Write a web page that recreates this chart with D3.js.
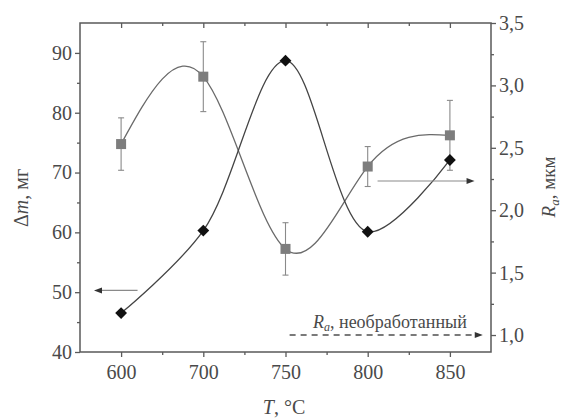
<!DOCTYPE html>
<html>
<head>
<meta charset="utf-8">
<script src="https://cdn.jsdelivr.net/npm/d3@7"></script>
<style>
  body { margin: 0; background: #fff; }
  svg { display: block; }
  svg text { font-family: "Liberation Serif", "Times New Roman", Times, serif; }
</style>
</head>
<body>
<svg width="563" height="419"></svg>
<script>
// temperatures (categorical, evenly spaced)
var temps = ['600', '700', '750', '800', '850']
// mass change, left axis
var dm = [46.5, 60.3, 88.7, 60.1, 72.1]
// roughness, right axis
var ra = [2.53, 3.07, 1.69, 2.35, 2.60]
var raErr = [0.21, 0.28, 0.21, 0.16, 0.28]
var raUntreated = 1.0
var dmTicks = [40, 50, 60, 70, 80, 90]
var raTicks = [1.0, 1.5, 2.0, 2.5, 3.0, 3.5]

;(function (d3) {
  var svg = d3.select('svg')
  var pl = 80, pr = 491, pt = 23, pb = 352

  var x = d3.scaleLinear().domain([-0.5, 4.5]).range([pl, pr])
  var yL = d3.scaleLinear().domain([40, 95]).range([pb, pt])
  var yR = d3.scaleLinear().domain([0.864, 3.5]).range([pb, pt])

  var axisColor = '#5a5a5a'
  var textColor = '#4a4a4a'
  var serif = '"Liberation Serif", "Times New Roman", Times, serif'

  function styleAxis (g) {
    g.attr('font-family', serif).attr('font-size', 20)
    g.select('.domain').remove()
    g.selectAll('line').attr('stroke', axisColor).attr('stroke-width', 1.3)
    g.selectAll('text').attr('fill', textColor).style('font-size', '20px')
  }

  // minor ticks
  var xMinor = [0.5, 1.5, 2.5, 3.5]
  var lMinor = [45, 55, 65, 75, 85]
  var rMinor = [1.25, 1.75, 2.25, 2.75, 3.25]

  svg.append('g').attr('transform', 'translate(0,' + pb + ')')
    .call(d3.axisBottom(x).tickValues(d3.range(temps.length)).tickFormat(function (i) { return temps[i] }).tickSize(5).tickPadding(8))
    .call(styleAxis)
  svg.append('g').attr('transform', 'translate(0,' + pb + ')')
    .call(d3.axisBottom(x).tickValues(xMinor).tickFormat('').tickSize(3))
    .call(styleAxis)
  svg.append('g').attr('transform', 'translate(0,' + pt + ')')
    .call(d3.axisBottom(x).tickValues(d3.range(temps.length)).tickFormat('').tickSize(5))
    .call(styleAxis)
  svg.append('g').attr('transform', 'translate(0,' + pt + ')')
    .call(d3.axisBottom(x).tickValues(xMinor).tickFormat('').tickSize(3))
    .call(styleAxis)

  svg.append('g').attr('transform', 'translate(' + pl + ',0)')
    .call(d3.axisLeft(yL).tickValues(dmTicks).tickSize(5).tickPadding(3))
    .call(styleAxis)
  svg.append('g').attr('transform', 'translate(' + pl + ',0)')
    .call(d3.axisLeft(yL).tickValues(lMinor).tickFormat('').tickSize(3))
    .call(styleAxis)

  svg.append('g').attr('transform', 'translate(' + pr + ',0)')
    .call(d3.axisRight(yR).tickValues(raTicks).tickFormat(function (d) { return d3.format('.1f')(d).replace('.', ',') }).tickSize(5).tickPadding(3))
    .call(styleAxis)
  svg.append('g').attr('transform', 'translate(' + pr + ',0)')
    .call(d3.axisRight(yR).tickValues(rMinor).tickFormat('').tickSize(3))
    .call(styleAxis)

  // frame
  svg.append('path')
    .attr('d', 'M' + pl + ',' + pt + 'V' + pb + 'H' + pr + 'V' + pt + 'Z')
    .attr('fill', 'none').attr('stroke', axisColor).attr('stroke-width', 1.5)

  // spline curves
  var lineL = d3.line().x(function (d, i) { return x(i) }).y(function (d) { return yL(d) }).curve(d3.curveCatmullRom)
  var lineR = d3.line().x(function (d, i) { return x(i) }).y(function (d) { return yR(d) }).curve(d3.curveNatural)

  svg.append('path').attr('d', lineR(ra)).attr('fill', 'none').attr('stroke', '#6a6a6a').attr('stroke-width', 1.3)
  svg.append('path').attr('d', lineL(dm)).attr('fill', 'none').attr('stroke', '#444').attr('stroke-width', 1.3)

  // error bars
  var eb = svg.append('g').attr('stroke', '#8a8a8a').attr('stroke-width', 1.1)
  ra.forEach(function (v, i) {
    var cx = x(i)
    eb.append('line').attr('x1', cx).attr('x2', cx).attr('y1', yR(v + raErr[i])).attr('y2', yR(v - raErr[i]))
    eb.append('line').attr('x1', cx - 3).attr('x2', cx + 3).attr('y1', yR(v + raErr[i])).attr('y2', yR(v + raErr[i]))
    eb.append('line').attr('x1', cx - 3).attr('x2', cx + 3).attr('y1', yR(v - raErr[i])).attr('y2', yR(v - raErr[i]))
  })

  // squares
  svg.selectAll('rect.sq').data(ra).enter().append('rect')
    .attr('class', 'sq')
    .attr('x', function (d, i) { return x(i) - 5 })
    .attr('y', function (d) { return yR(d) - 5 })
    .attr('width', 10).attr('height', 10)
    .attr('fill', '#7d7d7d')

  // diamonds
  svg.selectAll('path.dia').data(dm).enter().append('path')
    .attr('class', 'dia')
    .attr('d', d3.symbol().type(d3.symbolSquare).size(70))
    .attr('transform', function (d, i) { return 'translate(' + x(i) + ',' + yL(d) + ') rotate(45)' })
    .attr('fill', '#111')

  // arrows
  function arrow (x1, x2, y, color, dash, w) {
    var dir = x2 > x1 ? 1 : -1
    svg.append('line').attr('x1', x1).attr('x2', x2 - dir * 6).attr('y1', y).attr('y2', y)
      .attr('stroke', color).attr('stroke-width', w).attr('stroke-dasharray', dash)
    svg.append('path')
      .attr('d', 'M' + x2 + ',' + y + 'L' + (x2 - dir * 8) + ',' + (y - 3) + 'L' + (x2 - dir * 8) + ',' + (y + 3) + 'Z')
      .attr('fill', '#333')
  }
  arrow(x(0.2), x(-0.33), yL(50.3), '#8a8a8a', null, 1.2)
  arrow(x(3.12), x(4.3), yR(2.234), '#8a8a8a', null, 1.2)
  arrow(x(2.05), x(4.4), yR(raUntreated), '#7a7a7a', '6,5', 2)

  // annotation
  var ann = svg.append('text').attr('x', 313).attr('y', yR(raUntreated) - 7)
    .attr('fill', textColor).style('font-size', '18px')
  ann.append('tspan').style('font-style', 'italic').text('R')
  ann.append('tspan').style('font-style', 'italic').style('font-size', '12px').attr('dy', 3).text('a')
  ann.append('tspan').attr('dy', -3).text(', необработанный')

  // axis titles
  var xt = svg.append('text').attr('x', 284).attr('y', 414).attr('text-anchor', 'middle')
    .attr('fill', textColor).style('font-size', '20px')
  xt.append('tspan').style('font-style', 'italic').text('T')
  xt.append('tspan').text(', °C')

  var lt = svg.append('text').attr('transform', 'translate(28,198) rotate(-90)').attr('text-anchor', 'middle')
    .attr('fill', textColor).style('font-size', '20px')
  lt.append('tspan').text('Δ')
  lt.append('tspan').style('font-style', 'italic').text('m')
  lt.append('tspan').text(', мг')

  var rt = svg.append('text').attr('transform', 'translate(555,187) rotate(-90)').attr('text-anchor', 'middle')
    .attr('fill', textColor).style('font-size', '19px')
  rt.append('tspan').style('font-style', 'italic').text('R')
  rt.append('tspan').style('font-style', 'italic').style('font-size', '13px').attr('dy', 4).text('a')
  rt.append('tspan').attr('dy', -4).text(', мкм')
})(window.d3)
</script>
</body>
</html>
